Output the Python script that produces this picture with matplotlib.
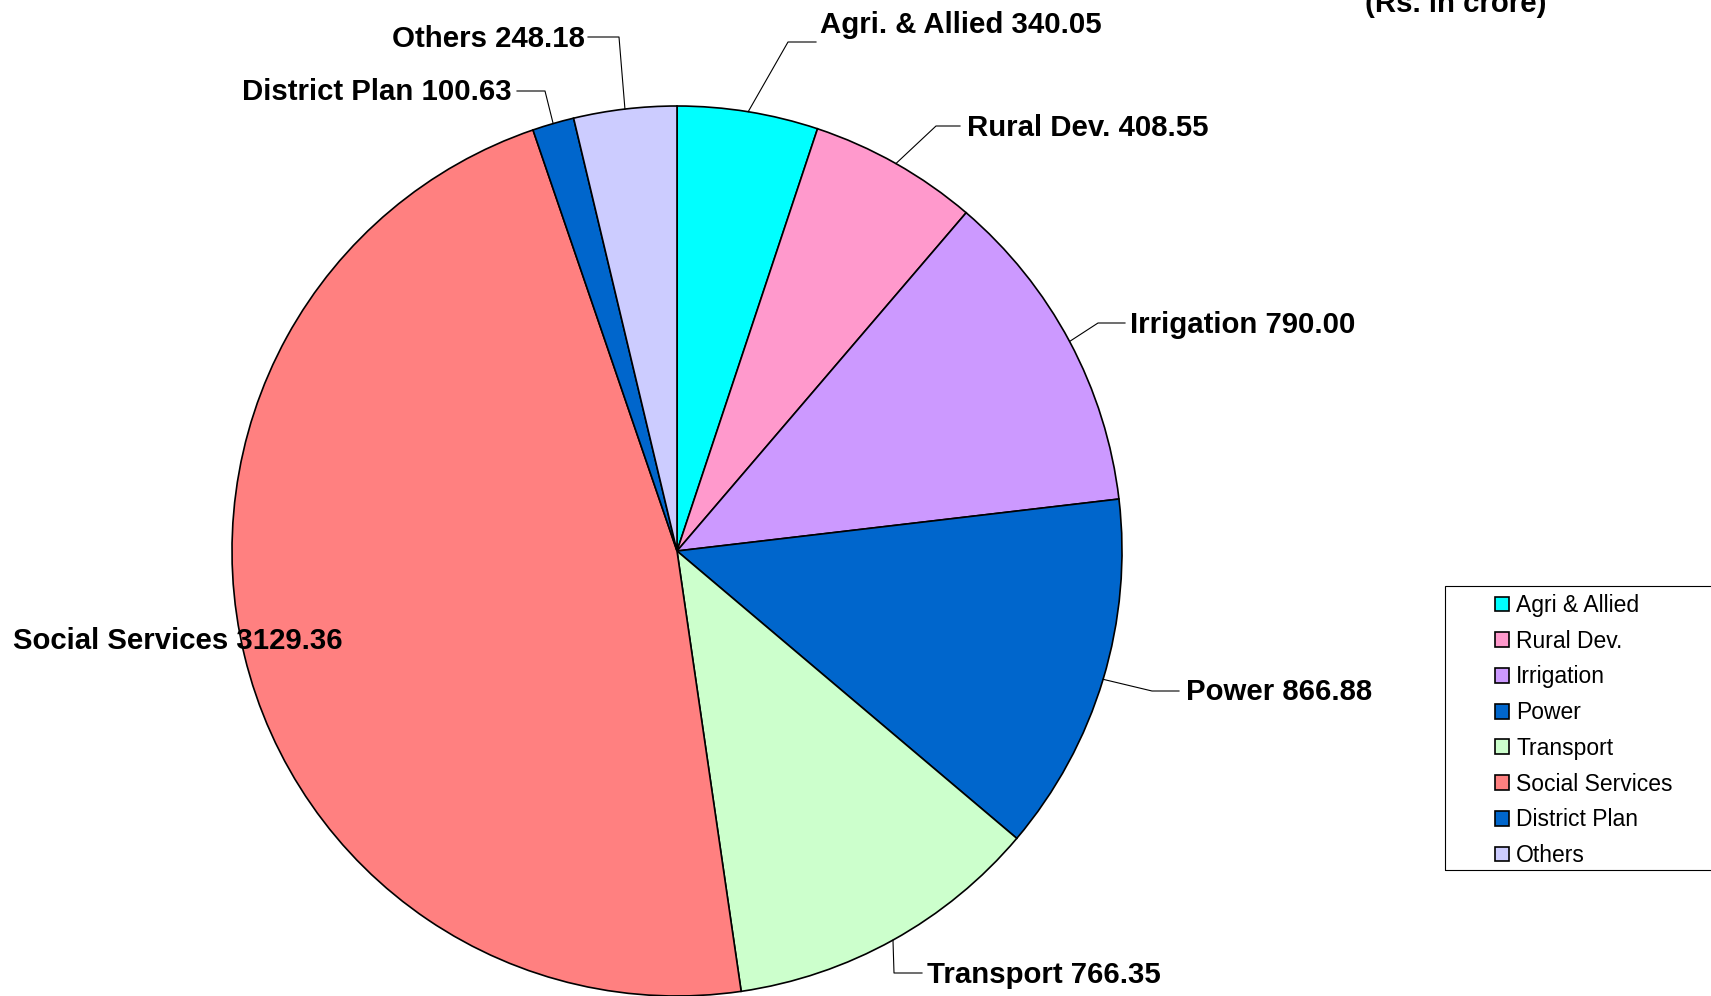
import numpy as np
import matplotlib
matplotlib.use("Agg")
import matplotlib.pyplot as plt
from matplotlib.patches import Rectangle

plt.rcParams['font.family'] = ['Liberation Sans', 'DejaVu Sans']

# 数据 (Rs. in crore)
categories = ["Agri & Allied", "Rural Dev.", "Irrigation", "Power", "Transport",
              "Social Services", "District Plan", "Others"]
label_names = ["Agri. & Allied", "Rural Dev.", "Irrigation", "Power", "Transport",
               "Social Services", "District Plan", "Others"]
values = [340.05, 408.55, 790.00, 866.88, 766.35, 3129.36, 100.63, 248.18]
colors = ["#00FFFF", "#FF99CC", "#CC99FF", "#0066CC", "#CCFFCC",
          "#FF8080", "#0066CC", "#CCCCFF"]

W, H = 1711, 996
fig = plt.figure(figsize=(W / 100, H / 100), dpi=100)
ax = fig.add_axes([0, 0, 1, 1])

# 饼图 (像素坐标, y 轴向上)
cx, cy, R = 677, H - 551, 445
wedges, _ = ax.pie(values, colors=colors, startangle=90, counterclock=False,
                   center=(cx, cy), radius=R,
                   wedgeprops=dict(edgecolor="black", linewidth=1.2))
ax.set_xlim(0, W)
ax.set_ylim(0, H)
ax.set_aspect("equal")
ax.axis("off")

# 标签布局: 文字位置 (x, 基线 y, 对齐), 折点, 终点 -- 以上边为原点的像素
layout = [
    ((820, 33, "left"), (788, 42), (816, 42)),
    ((967, 136, "left"), (936, 126), (960, 126)),
    ((1130, 333, "left"), (1098, 323), (1125, 323)),
    ((1186, 700, "left"), (1152, 691), (1179, 691)),
    ((927, 983, "left"), (894, 973), (922, 973)),
    ((13, 649, "left"), None, None),
    ((512, 100, "right"), (545, 91), (517, 91)),
    ((585, 47, "right"), (619, 37), (588, 37)),
]

for w, name, val, (tpos, bend, end) in zip(wedges, label_names, values, layout):
    tx, ty, ha = tpos
    ax.text(tx, H - ty, f"{name} {val:.2f}", ha=ha, va="baseline",
            fontsize=21.2, fontweight="bold", color="black")
    if bend is not None:
        ang = np.deg2rad((w.theta1 + w.theta2) / 2)
        ex, ey = cx + R * np.cos(ang), cy + R * np.sin(ang)
        ax.plot([ex, bend[0], end[0]], [ey, H - bend[1], H - end[1]],
                color="black", linewidth=0.8)

ax.text(1456, H - 12, "(Rs. in crore)", ha="center", va="baseline",
        fontsize=21.2, fontweight="bold")

# 图例
fig.patches.append(Rectangle((1445 / W, 1 - 870 / H), 300 / W, 284 / H,
                             transform=fig.transFigure, fill=False,
                             edgecolor="black", linewidth=0.8))
leg = ax.legend(wedges, categories, loc="upper left",
                bbox_to_anchor=(1495 / W, 1 - 594 / H), frameon=False,
                fontsize=16.5, handlelength=0.62, handleheight=0.62,
                handletextpad=0.3, labelspacing=0.555, borderpad=0,
                borderaxespad=0)

fig.savefig("out.png", dpi=100)
